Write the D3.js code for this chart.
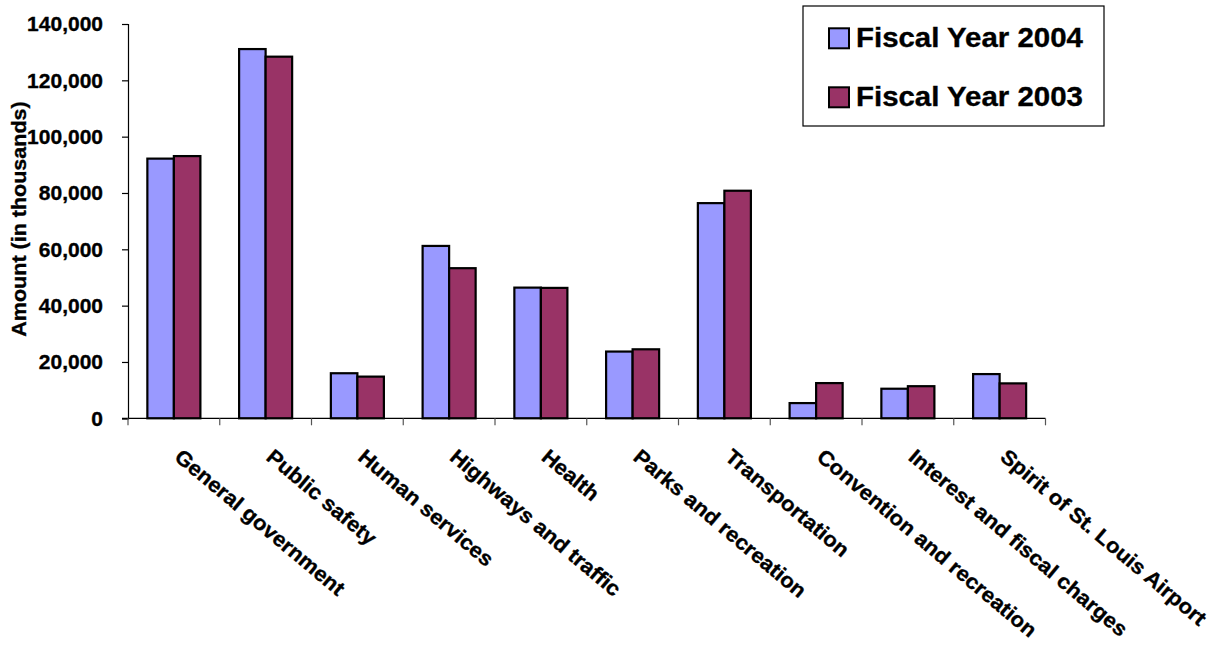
<!DOCTYPE html>
<html>
<head>
<meta charset="utf-8">
<script src="https://cdn.jsdelivr.net/npm/d3@7"></script>
<style>
  body { margin: 0; background: #fff; }
  text { font-family: "Liberation Sans", Arial, sans-serif; font-weight: bold; fill: #000; stroke: #000; stroke-width: 0.35px; }
</style>
</head>
<body>
<svg id="chart" width="1219" height="648"></svg>
<script>
const categories = ["General government", "Public safety", "Human services", "Highways and traffic", "Health",
  "Parks and recreation", "Transportation", "Convention and recreation", "Interest and fiscal charges",
  "Spirit of St. Louis Airport"];
const seriesNames = ["Fiscal Year 2004", "Fiscal Year 2003"];
const fy2004 = [92200, 131100, 16000, 61200, 46400, 23700, 76400, 5400, 10500, 15700];
const fy2003 = [93100, 128400, 14800, 53300, 46300, 24500, 80800, 12500, 11400, 12400];
const yTicks = [0, 20000, 40000, 60000, 80000, 100000, 120000, 140000];
const colors = ["#9999FF", "#993366"];

const svg = d3.select("#chart");
const mLeft = 128, mRight = 1045.5, mTop = 24, mBottom = 418.3;
const sx = 1.05;

const x0 = d3.scaleBand().domain(categories).range([mLeft, mRight]).paddingInner(0.422).paddingOuter(0.211);
const x1 = d3.scaleBand().domain(seriesNames).range([0, x0.bandwidth()]);
const y = d3.scaleLinear().domain([0, 140000]).range([mBottom, mTop]);

const data = categories.map((c, i) => ({cat: c, vals: [fy2004[i], fy2003[i]]}));

// bars
const g = svg.append("g");
data.forEach(d => {
  d.vals.forEach((v, j) => {
    g.append("rect")
      .attr("x", x0(d.cat) + x1(seriesNames[j]))
      .attr("y", y(v))
      .attr("width", x1.bandwidth())
      .attr("height", y(0) - y(v))
      .attr("fill", colors[j])
      .attr("stroke", "#000")
      .attr("stroke-width", 2.2);
  });
});

// y axis
const yAxis = d3.axisLeft(y).tickValues(yTicks).tickSize(6).tickFormat("");
const ya = svg.append("g").attr("transform", `translate(${mLeft},0)`).call(yAxis);
ya.select(".domain").attr("stroke", "#000").attr("stroke-width", 1.2);
ya.selectAll(".tick line").attr("stroke", "#000").attr("stroke-width", 1.2);
const fmt = d3.format(",");
svg.selectAll(".ytl").data(yTicks).enter().append("text")
  .attr("transform", d => `translate(103,${y(d)}) scale(${sx},1)`)
  .attr("dy", "0.36em")
  .attr("text-anchor", "end")
  .style("font-size", "20px")
  .text(d => fmt(d));

// x axis baseline + boundary ticks
const step = x0.step();
svg.append("line").attr("x1", mLeft - 6).attr("x2", mRight).attr("y1", mBottom).attr("y2", mBottom)
  .attr("stroke", "#000").attr("stroke-width", 1.2);
const bounds = d3.range(categories.length + 1).map(k => mLeft + k * step);
svg.selectAll(".xt").data(bounds).enter().append("line")
  .attr("x1", d => d).attr("x2", d => d).attr("y1", mBottom).attr("y2", mBottom + 7)
  .attr("stroke", "#555").attr("stroke-width", 1.2);

// x labels
svg.selectAll(".xl").data(categories).enter().append("text")
  .attr("transform", d => `translate(${x0(d) + x0.bandwidth() / 2 + 9},${mBottom + 29}) rotate(40) scale(${sx},1)`)
  .attr("dy", "0.72em")
  .attr("text-anchor", "start")
  .style("font-size", "21px")
  .text(d => d);

// y title
svg.append("text")
  .attr("transform", `translate(26,219) rotate(-90) scale(${sx},1)`)
  .attr("text-anchor", "middle")
  .style("font-size", "20.5px")
  .text("Amount (in thousands)");

// legend
const lg = svg.append("g");
lg.append("rect").attr("x", 803).attr("y", 6).attr("width", 301).attr("height", 120)
  .attr("fill", "#fff").attr("stroke", "#000").attr("stroke-width", 1.2);
seriesNames.forEach((s, j) => {
  const yy = 28.3 + j * 59;
  lg.append("rect").attr("x", 829).attr("y", yy).attr("width", 20).attr("height", 20)
    .attr("fill", colors[j]).attr("stroke", "#000").attr("stroke-width", 2);
  lg.append("text").attr("transform", `translate(856,${yy + 18.5}) scale(1.09,1)`)
    .style("font-size", "27px").text(s);
});
</script>
</body>
</html>
